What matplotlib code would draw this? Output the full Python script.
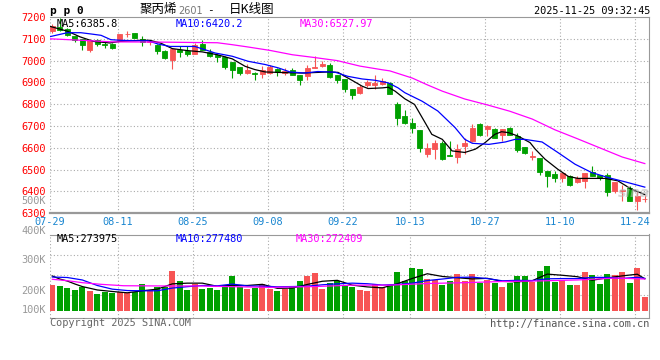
import matplotlib
matplotlib.use('Agg')
import matplotlib.pyplot as plt
import numpy as np

# ---- data ----
tick_labels = ['07-29', '08-11', '08-25', '09-08', '09-22', '10-13', '10-27', '11-10', '11-24']
tick_idx = [0, 9, 19, 29, 39, 48, 58, 68, 78]
price_ticks = [6300, 6400, 6500, 6600, 6700, 6800, 6900, 7000, 7100, 7200]
vol_labels = ['500K', '400K', '300K', '200K', '100K']

opens = [7134, 7152, 7146, 7111, 7097, 7047, 7093, 7076, 7078, 7096,
         7121, 7126, 7099, 7086, 7073, 7046, 7005, 7050, 7046, 7031,
         7078, 7040, 7027, 7017, 6992, 6969, 6941, 6944, 6939, 6944,
         6963, 6944, 6956, 6932, 6928, 6967, 6974, 6982, 6932, 6916,
         6868, 6853, 6886, 6886, 6894, 6898, 6799, 6746, 6716, 6680,
         6574, 6597, 6621, 6568, 6559, 6609, 6632, 6711, 6688, 6685,
         6658, 6693, 6654, 6602, 6559, 6552, 6493, 6480, 6460, 6469,
         6442, 6446, 6490, 6475, 6475, 6404, 6403, 6414, 6358, 6365]
highs = [7170, 7195, 7150, 7115, 7100, 7097, 7100, 7084, 7082, 7122,
         7137, 7128, 7112, 7096, 7076, 7048, 7055, 7065, 7065, 7081,
         7093, 7053, 7030, 7019, 6994, 6972, 6986, 6946, 6977, 6982,
         6966, 6967, 6964, 6934, 6979, 7019, 6997, 6990, 6936, 6918,
         6870, 6887, 6910, 6932, 6920, 6904, 6810, 6772, 6738, 6682,
         6624, 6635, 6630, 6632, 6616, 6647, 6711, 6713, 6705, 6692,
         6687, 6697, 6668, 6604, 6586, 6555, 6495, 6496, 6487, 6474,
         6472, 6487, 6517, 6477, 6487, 6444, 6431, 6426, 6401, 6383]
lows = [7128, 7138, 7112, 7085, 7047, 7040, 7065, 7058, 7055, 7094,
        7108, 7102, 7068, 7070, 7029, 7006, 6963, 7015, 7023, 7029,
        7048, 7018, 6992, 6962, 6921, 6932, 6939, 6910, 6921, 6940,
        6928, 6933, 6934, 6887, 6910, 6966, 6970, 6920, 6899, 6857,
        6826, 6846, 6878, 6871, 6888, 6846, 6703, 6708, 6670, 6581,
        6559, 6551, 6545, 6562, 6530, 6571, 6628, 6655, 6654, 6645,
        6632, 6657, 6582, 6570, 6545, 6475, 6419, 6445, 6442, 6427,
        6440, 6414, 6470, 6452, 6378, 6393, 6358, 6355, 6317, 6350]
closes = [7160, 7142, 7116, 7093, 7073, 7093, 7078, 7070, 7058, 7120,
          7123, 7104, 7085, 7088, 7043, 7010, 7053, 7040, 7032, 7073,
          7050, 7020, 7015, 6969, 6959, 6944, 6956, 6939, 6959, 6969,
          6948, 6951, 6936, 6909, 6967, 6969, 6985, 6924, 6909, 6868,
          6842, 6878, 6901, 6898, 6905, 6849, 6738, 6716, 6693, 6598,
          6598, 6621, 6548, 6565, 6597, 6621, 6693, 6658, 6700, 6647,
          6685, 6659, 6589, 6576, 6561, 6491, 6472, 6460, 6484, 6431,
          6461, 6484, 6472, 6461, 6396, 6442, 6405, 6358, 6378, 6367]
volumes = [221000, 213000, 198000, 179000, 202000, 173000, 145000, 164000, 151000, 159000,
           156000, 164000, 230000, 179000, 202000, 207000, 340000, 255000, 179000, 227000,
           187000, 193000, 179000, 221000, 298000, 202000, 187000, 193000, 230000, 185000,
           170000, 187000, 202000, 255000, 298000, 321000, 187000, 241000, 258000, 215000,
           202000, 179000, 170000, 230000, 207000, 221000, 332000, 255000, 366000, 357000,
           272000, 264000, 221000, 258000, 315000, 255000, 315000, 236000, 264000, 236000,
           204000, 236000, 298000, 298000, 249000, 340000, 383000, 249000, 264000, 221000,
           221000, 332000, 306000, 230000, 317000, 306000, 332000, 241000, 368000, 122000]

# moving average lines (candle position, value)
ma5_x = [-0.3, 2, 3.7, 5.5, 7.7, 9, 11.7, 13, 14.4, 16, 18, 20, 22, 24, 25.7, 27, 28.4, 31,
         33.3, 35.4, 36.8, 38.1, 39, 40, 41.3, 42.1, 44, 44.8, 45.7, 47, 48.3, 49.7, 50.6,
         52, 53.3, 55, 56.4, 57.7, 59, 59.9, 60.8, 62.1, 63.7, 64.4, 65.7, 67.4, 68.8, 70.1,
         73.7, 75.4, 77.2, 79]
ma5_v = [7157, 7135, 7109, 7088, 7081, 7088, 7093, 7093, 7081, 7055, 7046, 7040, 7027, 7008,
         6974, 6959, 6948, 6945, 6943, 6946, 6948, 6946, 6928, 6909, 6883, 6872, 6875, 6878,
         6860, 6825, 6799, 6716, 6662, 6639, 6586, 6579, 6594, 6624, 6662, 6674, 6670, 6654,
         6624, 6594, 6548, 6502, 6469, 6460, 6460, 6449, 6411, 6386]
ma10_x = [-0.3, 2, 3.8, 5.2, 6.5, 7.8, 9.2, 11, 12.8, 14.1, 15.7, 19, 21.7, 24, 26.1, 28.4,
          30.1, 31.7, 33.7, 35.4, 37.7, 39.4, 41.3, 43, 44.8, 46.1, 47, 49.3, 51.4, 53.7, 55,
          56, 58.2, 60.4, 61.7, 63, 65.3, 67.4, 69.7, 71.9, 74.1, 76.4, 79]
ma10_v = [7110, 7128, 7128, 7122, 7116, 7096, 7093, 7091, 7091, 7076, 7065, 7065, 7035, 7020,
          6997, 6982, 6967, 6948, 6943, 6950, 6947, 6928, 6916, 6910, 6898, 6875, 6853, 6814,
          6769, 6693, 6639, 6621, 6616, 6627, 6639, 6639, 6627, 6579, 6525, 6487, 6464, 6444,
          6420]
ma30_x = [-0.3, 4, 8, 14, 22, 24, 26, 29, 32, 35, 38, 41, 44, 45, 48, 50, 52, 55, 58, 61,
          64, 67, 70, 73, 76, 79]
ma30_v = [7100, 7093, 7086, 7085, 7082, 7073, 7063, 7047, 7027, 7014, 7000, 6975, 6958, 6953,
          6920, 6889, 6860, 6824, 6797, 6768, 6732, 6683, 6642, 6600, 6558, 6528]

vma5_x = [0, 1, 2, 3, 4, 6, 8, 10, 12, 14, 16, 18, 20, 22, 24, 26, 28, 30, 32, 34, 36, 38, 40,
          42, 44, 46, 48, 50, 52, 54, 56, 58, 60, 62, 64, 66, 68, 70, 72, 74, 76, 78, 79]
vma5_v = [298000, 272000, 255000, 230000, 208000, 179000, 166000, 155000, 172000, 186000,
          231000, 237000, 237000, 210000, 219000, 217000, 227000, 193000, 195000, 226000,
          253000, 261000, 220000, 205000, 197000, 232000, 277000, 317000, 294000, 283000,
          273000, 278000, 252000, 248000, 258000, 314000, 304000, 292000, 262000, 282000,
          299000, 313000, 273975]
vma10_x = [0, 2, 4, 6, 8, 10, 12, 14, 16, 18, 20, 22, 24, 26, 28, 30, 32, 34, 36, 38, 40, 42,
           44, 46, 48, 50, 52, 54, 56, 58, 60, 62, 64, 66, 68, 70, 72, 74, 76, 78, 79]
vma10_v = [289000, 285000, 264000, 217000, 186000, 174000, 172000, 172000, 195000, 207000,
           217000, 214000, 229000, 213000, 212000, 206000, 208000, 211000, 223000, 231000,
           237000, 232000, 221000, 226000, 237000, 259000, 272000, 286000, 288000, 276000,
           257000, 261000, 259000, 274000, 276000, 276000, 286000, 286000, 277000, 287000,
           277480]
vma30_x = [0, 2, 4, 6.5, 9.5, 15, 19.5, 24, 29, 35, 40, 45, 50, 55, 60, 65, 70, 75, 79]
vma30_v = [270000, 258000, 241000, 227000, 215000, 213000, 213000, 207000, 201000, 208000,
           220000, 220000, 234000, 241000, 251000, 256000, 264000, 280000, 272409]

# ---- style ----
RED = '#f75454'
GREEN = '#00a000'
GRID = '#aaaaaa'
BORDER = '#999999'
MONO = 'DejaVu Sans Mono'
CJK = ['Noto Sans CJK SC', 'DejaVu Sans']
FS = 7.4

W, H = 660, 360
fig = plt.figure(figsize=(W / 100, H / 100), dpi=100)


def box(left, top, right, bottom):
    return [left / W, 1 - bottom / H, (right - left) / W, (bottom - top) / H]


ax = fig.add_axes(box(50, 17, 649, 213.3))
axv = fig.add_axes(box(50, 234.5, 649, 318))

idx = np.arange(len(closes))
o = np.array(opens)
c = np.array(closes)
colors = [RED if cc >= oo else GREEN for oo, cc in zip(opens, closes)]
grid_pos = [t - 0.3 for t in tick_idx]

for a in (ax, axv):
    a.set_xlim(-0.31, 79.56)
    a.set_axisbelow(True)
    a.tick_params(length=0)
    a.spines['left'].set_visible(False)
    for s in ('top', 'right', 'bottom'):
        a.spines[s].set_color(BORDER)
    for gx in grid_pos:
        a.axvline(gx, color=GRID, lw=0.8, ls=(0, (1, 2)), zorder=0)

# candles
ax.vlines(idx, lows, highs, colors=colors, lw=0.8, zorder=2)
ax.bar(idx, np.abs(c - o), bottom=np.minimum(o, c), width=0.64, color=colors,
       edgecolor=colors, linewidth=0.6, zorder=3)
ax.plot(ma5_x, ma5_v, color='black', lw=0.9, zorder=4)
ax.plot(ma10_x, ma10_v, color='#0000ff', lw=0.9, zorder=4)
ax.plot(ma30_x, ma30_v, color='#ff00ff', lw=0.9, zorder=4)

ax.set_ylim(6300, 7200)
ax.set_yticks(price_ticks)
ax.set_yticklabels([str(p) for p in price_ticks], color='#ff0000', fontfamily=MONO, fontsize=FS)
ax.tick_params(axis='y', pad=3)
for p in price_ticks[1:-1]:
    ax.axhline(p, color=GRID, lw=0.8, ls=(0, (1, 2)), zorder=0)
ax.set_xticks(grid_pos)
ax.set_xticklabels(tick_labels, color='#1a86d0', fontfamily=MONO, fontsize=FS)
ax.tick_params(axis='x', pad=3)
ax.spines['bottom'].set_linewidth(1.6)

top_main = ax.get_xaxis_transform()
ax.text(0.6, 1 - 7 / 196.3, 'MA5:6385.8', transform=top_main, color='black',
        fontfamily=MONO, fontsize=FS, va='center')
ax.text(16.5, 1 - 7 / 196.3, 'MA10:6420.2', transform=top_main, color='#0000ff',
        fontfamily=MONO, fontsize=FS, va='center')
ax.text(33.0, 1 - 7 / 196.3, 'MA30:6527.97', transform=top_main, color='#ff00ff',
        fontfamily=MONO, fontsize=FS, va='center')
ax.text(77.5, 6395, 'sina', color='#bbbbbb', alpha=0.6, fontsize=10, fontweight='bold',
        style='italic', ha='center', va='center', zorder=5)

# volume
axv.bar(idx, volumes, width=0.8, color=colors, zorder=3)
axv.plot(vma5_x, vma5_v, color='black', lw=0.9, zorder=4)
axv.plot(vma10_x, vma10_v, color='#0000ff', lw=0.9, zorder=4)
axv.plot(vma30_x, vma30_v, color='#ff00ff', lw=0.9, zorder=4)
axv.set_ylim(-59600, 651000)
axv.set_yticks([])
axv.set_xticks([])
for py in (255, 275, 295):
    axv.plot([0, 1], [(318 - py) / 83.5] * 2, transform=axv.transAxes, color=GRID,
             lw=0.8, ls=(0, (1, 2)), zorder=0)

top_vol = axv.get_xaxis_transform()
axv.text(0.6, 1 - 4 / 83.5, 'MA5:273975', transform=top_vol, color='black',
         fontfamily=MONO, fontsize=FS, va='center')
axv.text(16.5, 1 - 4 / 83.5, 'MA10:277480', transform=top_vol, color='#0000ff',
         fontfamily=MONO, fontsize=FS, va='center')
axv.text(32.5, 1 - 4 / 83.5, 'MA30:272409', transform=top_vol, color='#ff00ff',
         fontfamily=MONO, fontsize=FS, va='center')

for lab, py in zip(vol_labels, [201, 231, 260, 291, 310]):
    fig.text(46 / W, 1 - py / H, lab, color='#999999', fontfamily=MONO, fontsize=FS,
             ha='right', va='center')

# header / footer
fig.text(50 / W, 1 - 11 / H, 'p p 0', fontfamily=MONO, fontsize=8, fontweight='bold', va='center')
fig.text(140 / W, 1 - 10 / H, '聚丙烯', family=CJK, fontsize=9, va='center')
fig.text(178 / W, 1 - 10.5 / H, '2601', color='#777777', fontfamily='DejaVu Sans', fontsize=7, va='center')
fig.text(207 / W, 1 - 10 / H, '-', fontfamily=MONO, fontsize=8, va='center')
fig.text(229 / W, 1 - 10 / H, '日K线图', family=CJK, fontsize=9, va='center')
fig.text(650 / W, 1 - 11 / H, '2025-11-25 09:32:45', fontfamily=MONO, fontsize=FS,
         ha='right', va='center')
fig.text(50 / W, 1 - 323.5 / H, 'Copyright 2025 SINA.COM', color='#666666', fontfamily=MONO,
         fontsize=FS, va='center')
fig.text(649 / W, 1 - 324 / H, 'http://finance.sina.com.cn', color='#555555', fontfamily=MONO,
         fontsize=FS, ha='right', va='center')

fig.savefig('out.png', dpi=100)
